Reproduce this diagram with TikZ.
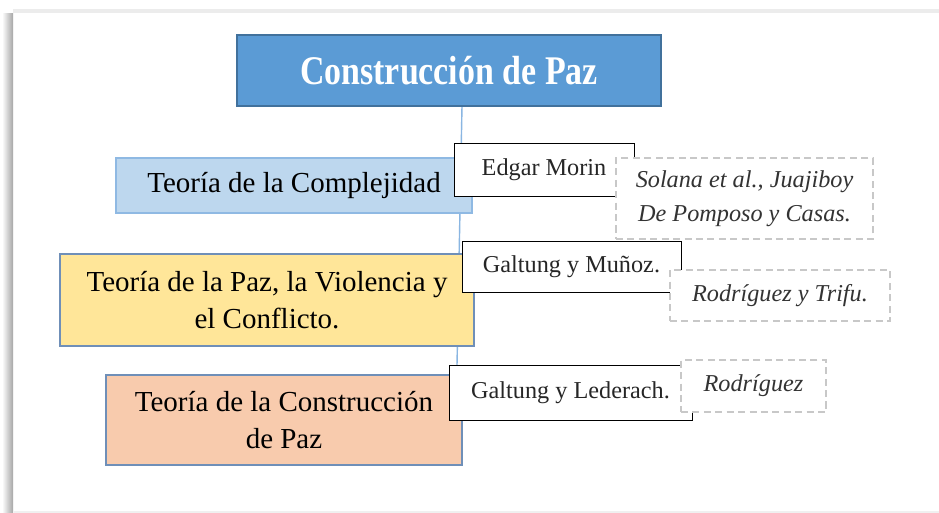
\documentclass[tikz,border=0pt]{standalone}
\usepackage{fontspec}
\setmainfont{Liberation Serif}
\usetikzlibrary{backgrounds,shadows}

\definecolor{titleblue}{HTML}{5B9BD5}
\definecolor{titleedge}{HTML}{41719C}
\definecolor{complfill}{HTML}{BDD7EE}
\definecolor{compledge}{HTML}{8FB9E3}
\definecolor{pazfill}{HTML}{FFE699}
\definecolor{constrfill}{HTML}{F8CBAD}
\definecolor{boxedge}{HTML}{6F8FB8}
\definecolor{spineblue}{HTML}{8AB6E2}
\definecolor{dashgray}{HTML}{C8C8C8}

\tikzset{
  mainbox/.style={rectangle,inner sep=0pt,outer sep=0pt,line width=0.8pt,
    align=center,font=\fontsize{16.5}{21.3}\selectfont},
  authorbox/.style={rectangle,inner sep=0pt,outer sep=0pt,draw=black,
    fill=white,line width=0.5pt,text=black!85,
    drop shadow={shadow xshift=0.7pt,shadow yshift=-0.7pt,opacity=1,fill=black!80},
    font=\fontsize{13.8}{19.4}\selectfont},
  citebox/.style={rectangle,inner sep=0pt,outer sep=0pt,draw=dashgray,
    fill=white,line width=0.7pt,dash pattern=on 4pt off 2.5pt,align=center,
    text=black!80,font=\fontsize{13.8}{19.4}\selectfont\itshape}
}

\begin{document}
\begin{tikzpicture}[x=0.02cm,y=-0.02cm]
\useasboundingbox (0,0) rectangle (939,513);

% title and the three theories
\node[mainbox,fill=titleblue,draw=titleedge,minimum width=8.48cm,minimum height=1.42cm,
  text=white,font=\fontsize{19.3}{24}\selectfont\bfseries]
  (title) at (449,70.5) {\scalebox{1}[1.2]{Construcción de Paz}};
\node[mainbox,fill=complfill,draw=compledge,minimum width=7.12cm,minimum height=1.10cm]
  (compl) at (294,185.5) {Teoría de la Complejidad};
\node[mainbox,fill=pazfill,draw=boxedge,minimum width=8.28cm,minimum height=1.84cm]
  (paz) at (267,300) {Teoría de la Paz, la Violencia y\\el Conflicto.};
\node[mainbox,fill=constrfill,draw=boxedge,minimum width=7.12cm,minimum height=1.80cm]
  (constr) at (284,420) {Teoría de la Construcción\\de Paz};

% authors
\node[authorbox,minimum width=3.60cm,minimum height=1.06cm] (morin) at (544,169.5) {Edgar Morin};
\node[authorbox,minimum width=4.38cm,minimum height=1.02cm] (munoz) at (571.5,266.5) {Galtung y Muñoz.};
\node[authorbox,minimum width=4.86cm,minimum height=1.10cm] (lederach) at (570.5,392.5) {Galtung y Lederach.};

% citations
\node[citebox,minimum width=5.14cm,minimum height=1.62cm] (solana) at (744.5,198.5)
  {Solana et al., Juajiboy\\De Pomposo y Casas.};
\node[citebox,minimum width=4.40cm,minimum height=1.02cm] (trifu) at (780,295.5) {Rodríguez y Trifu.};
\node[citebox,minimum width=2.90cm,minimum height=1.04cm] (rodri) at (753.5,386) {Rodríguez};

\begin{scope}[on background layer]
  % page
  \fill[white] (0,0) rectangle (939,513);
  \shade[left color=white,right color=gray!70] (2,14) rectangle (13,513);
  \fill[gray!15] (13,9) rectangle (939,13);
  \fill[white] (14,13) rectangle (939,511);
  \draw[gray!12,line width=0.8pt] (14,512) -- (939,512);
  % spine
  \coordinate (top) at (462,0);
  \coordinate (bot) at (457,0);
  \draw[spineblue,line width=0.8pt] (title.south -| top) -- (lederach.north -| bot);
\end{scope}
\end{tikzpicture}
\end{document}
